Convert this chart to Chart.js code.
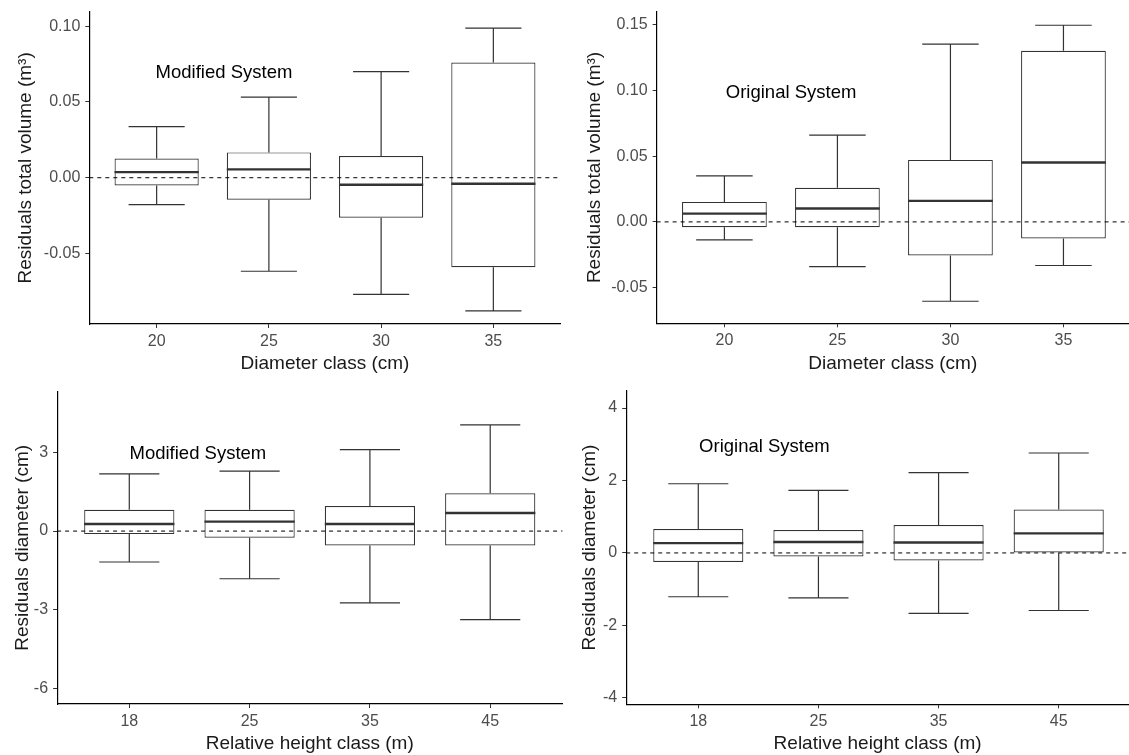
<!DOCTYPE html>
<html>
<head>
<meta charset="utf-8">
<script src="https://cdn.jsdelivr.net/npm/chart.js@4.4.1/dist/chart.umd.min.js"></script>
<style>
  body { margin: 0; background: #fff; }
  #wrap { position: relative; width: 1129px; height: 755px; }
  canvas { position: absolute; }
</style>
</head>
<body>
<div id="wrap">
  <canvas id="c1" width="565" height="380" style="left:0;top:0"></canvas>
  <canvas id="c2" width="564" height="380" style="left:565px;top:0"></canvas>
  <canvas id="c3" width="565" height="375" style="left:0;top:380px"></canvas>
  <canvas id="c4" width="564" height="375" style="left:565px;top:380px"></canvas>
</div>
<script>
// Box plot residuals — four panels

// top row: diameter classes, residuals of total volume (m3)
var diamClasses = ['20', '25', '30', '35'];
var volTicks = [-0.05, 0, 0.05, 0.10];
var volTicksOrig = [-0.05, 0, 0.05, 0.10, 0.15];

var modVolLow = [-0.0178, -0.0617, -0.0769, -0.0879];
var modVolQ1 = [-0.0051, -0.0145, -0.0264, -0.0590];
var modVolMed = [0.0037, 0.0055, -0.0046, -0.0040];
var modVolQ3 = [0.0126, 0.0167, 0.0143, 0.0760];
var modVolHigh = [0.0337, 0.0531, 0.0700, 0.0987];

var origVolLow = [-0.0137, -0.0340, -0.0604, -0.0332];
var origVolQ1 = [-0.0041, -0.0041, -0.0256, -0.0127];
var origVolMed = [0.0063, 0.0102, 0.0160, 0.0452];
var origVolQ3 = [0.0152, 0.0259, 0.0472, 0.1302];
var origVolHigh = [0.0350, 0.0660, 0.1353, 0.1497];

// bottom row: relative height classes, residuals of diameter (cm)
var heightClasses = ['18', '25', '35', '45'];
var diaTicksMod = [-6, -3, 0, 3];
var diaTicksOrig = [-4, -2, 0, 2, 4];

var modDiaLow = [-1.18, -1.82, -2.74, -3.38];
var modDiaQ1 = [-0.115, -0.25, -0.55, -0.55];
var modDiaMed = [0.27, 0.36, 0.27, 0.69];
var modDiaQ3 = [0.815, 0.815, 0.955, 1.44];
var modDiaHigh = [2.18, 2.29, 3.11, 4.05];

var origDiaLow = [-1.21, -1.24, -1.67, -1.59];
var origDiaQ1 = [-0.25, -0.10, -0.21, 0.0];
var origDiaMed = [0.27, 0.30, 0.29, 0.54];
var origDiaQ3 = [0.66, 0.63, 0.77, 1.20];
var origDiaHigh = [1.91, 1.73, 2.22, 2.76];

var FONT = "'Liberation Sans', Arial, sans-serif";
var INK = '#333333';

// whiskers, caps, medians, zero line and the panel note
var boxExtras = {
  id: 'boxExtras',
  afterDatasetsDraw: function(chart) {
    var o = chart.options.plugins.boxExtras;
    var x = chart.scales.x, y = chart.scales.y, ctx = chart.ctx;
    var unit = x.getPixelForValue(1) - x.getPixelForValue(0);
    ctx.save();
    ctx.strokeStyle = INK;
    ctx.lineWidth = 1.2;
    o.low.forEach(function(v, i) {
      var cx = x.getPixelForValue(i);
      var cap = unit * 0.25;
      ctx.beginPath();
      ctx.moveTo(cx, y.getPixelForValue(o.high[i]));
      ctx.lineTo(cx, y.getPixelForValue(o.q3[i]));
      ctx.moveTo(cx, y.getPixelForValue(o.q1[i]));
      ctx.lineTo(cx, y.getPixelForValue(v));
      ctx.moveTo(cx - cap, y.getPixelForValue(o.high[i]));
      ctx.lineTo(cx + cap, y.getPixelForValue(o.high[i]));
      ctx.moveTo(cx - cap, y.getPixelForValue(v));
      ctx.lineTo(cx + cap, y.getPixelForValue(v));
      ctx.stroke();
    });
    ctx.lineWidth = 2.4;
    o.med.forEach(function(v, i) {
      var cx = x.getPixelForValue(i), half = unit * 0.375;
      ctx.beginPath();
      ctx.moveTo(cx - half, y.getPixelForValue(v));
      ctx.lineTo(cx + half, y.getPixelForValue(v));
      ctx.stroke();
    });
    // dashed reference at zero
    var y0 = y.getPixelForValue(0);
    ctx.strokeStyle = '#000';
    ctx.lineWidth = 1;
    ctx.setLineDash([4, 4]);
    ctx.beginPath();
    ctx.moveTo(chart.chartArea.left, y0);
    ctx.lineTo(chart.chartArea.right, y0);
    ctx.stroke();
    ctx.setLineDash([]);
    // note
    ctx.fillStyle = '#000';
    ctx.font = '18.5px ' + FONT;
    ctx.textAlign = 'center';
    ctx.textBaseline = 'middle';
    ctx.fillText(o.note, x.getPixelForValue(o.noteAt[0]), y.getPixelForValue(o.noteAt[1]));
    ctx.restore();
  }
};

function makePanel(id, p) {
  var boxes = p.q1.map(function(v, i) { return { x: i, y: [v, p.q3[i]] }; });
  new Chart(document.getElementById(id), {
    type: 'bar',
    data: {
      datasets: [{
        data: boxes,
        backgroundColor: '#ffffff',
        borderColor: INK,
        borderWidth: 1.2,
        borderSkipped: false,
        barPercentage: 0.75,
        categoryPercentage: 1
      }]
    },
    plugins: [boxExtras],
    options: {
      responsive: false, animation: false, devicePixelRatio: 1,
      layout: { padding: { top: p.top, right: p.right, bottom: 0, left: 0 } },
      plugins: {
        legend: { display: false }, tooltip: { enabled: false },
        boxExtras: { low: p.low, q1: p.q1, med: p.med, q3: p.q3, high: p.high, note: p.note, noteAt: p.noteAt }
      },
      scales: {
        x: {
          type: 'linear', min: -0.6, max: p.xmax, offset: false,
          afterBuildTicks: function(s) { s.ticks = p.labels.map(function(l, i) { return { value: i }; }); },
          afterFit: function(s) { s.height = p.xh; s.paddingLeft = 0; s.paddingRight = 0; },
          ticks: { callback: function(v) { return p.labels[v]; }, color: '#4d4d4d', font: { family: FONT, size: 16 }, padding: 4, maxRotation: 0, autoSkip: false },
          grid: { drawOnChartArea: false, drawTicks: true, tickLength: 4, color: INK, offset: false },
          border: { display: true, color: '#000', width: 1.2 },
          title: { display: true, text: p.xTitle, color: '#1a1a1a', font: { family: FONT, size: 19 }, padding: { top: 0, bottom: p.xPad } }
        },
        y: {
          type: 'linear', min: p.ymin, max: p.ymax,
          afterBuildTicks: function(s) { s.ticks = p.ticks.map(function(v) { return { value: v }; }); },
          afterFit: function(s) { s.width = p.yw; s.paddingTop = 0; s.paddingBottom = 0; },
          ticks: { callback: p.fmt, color: '#4d4d4d', font: { family: FONT, size: 16 }, padding: 5 },
          grid: { drawOnChartArea: false, drawTicks: true, tickLength: 4, color: INK },
          border: { display: true, color: '#000', width: 1.2 },
          title: { display: true, text: p.yTitle, color: '#1a1a1a', font: { family: FONT, size: 19 }, padding: { top: p.yPad, bottom: 0 } }
        }
      }
    }
  });
}

function fmt2(v) { return v.toFixed(2); }
function fmt0(v) { return String(v); }

makePanel('c1', {
  labels: diamClasses, ticks: volTicks, fmt: fmt2,
  low: modVolLow, q1: modVolQ1, med: modVolMed, q3: modVolQ3, high: modVolHigh,
  ymin: -0.0965, ymax: 0.1095, xmax: 3.6,
  top: 11.7, right: 4.3, xh: 56, yw: 89.3, xPad: 5.3, yPad: 14.6,
  xTitle: 'Diameter class (cm)', yTitle: 'Residuals total volume (m\u00b3)',
  note: 'Modified System', noteAt: [0.6, 0.069]
});
makePanel('c2', {
  labels: diamClasses, ticks: volTicksOrig, fmt: fmt2,
  low: origVolLow, q1: origVolQ1, med: origVolMed, q3: origVolQ3, high: origVolHigh,
  ymin: -0.0772, ymax: 0.160, xmax: 3.58,
  top: 11.7, right: 0, xh: 56.7, yw: 91.6, xPad: 5.3, yPad: 18.5,
  xTitle: 'Diameter class (cm)', yTitle: 'Residuals total volume (m\u00b3)',
  note: 'Original System', noteAt: [0.59, 0.0985]
});
makePanel('c3', {
  labels: heightClasses, ticks: diaTicksMod, fmt: fmt0,
  low: modDiaLow, q1: modDiaQ1, med: modDiaMed, q3: modDiaQ3, high: modDiaHigh,
  ymin: -6.6, ymax: 5.32, xmax: 3.6,
  top: 11.7, right: 2.6, xh: 51, yw: 57.1, xPad: 0.3, yPad: 11,
  xTitle: 'Relative height class (m)', yTitle: 'Residuals diameter (cm)',
  note: 'Modified System', noteAt: [0.57, 2.94]
});
makePanel('c4', {
  labels: heightClasses, ticks: diaTicksOrig, fmt: fmt0,
  low: origDiaLow, q1: origDiaQ1, med: origDiaMed, q3: origDiaQ3, high: origDiaHigh,
  ymin: -4.18, ymax: 4.48, xmax: 3.585,
  top: 10.7, right: 0, xh: 50.7, yw: 61.2, xPad: 0.3, yPad: 13.6,
  xTitle: 'Relative height class (m)', yTitle: 'Residuals diameter (cm)',
  note: 'Original System', noteAt: [0.55, 2.94]
});
</script>
</body>
</html>
